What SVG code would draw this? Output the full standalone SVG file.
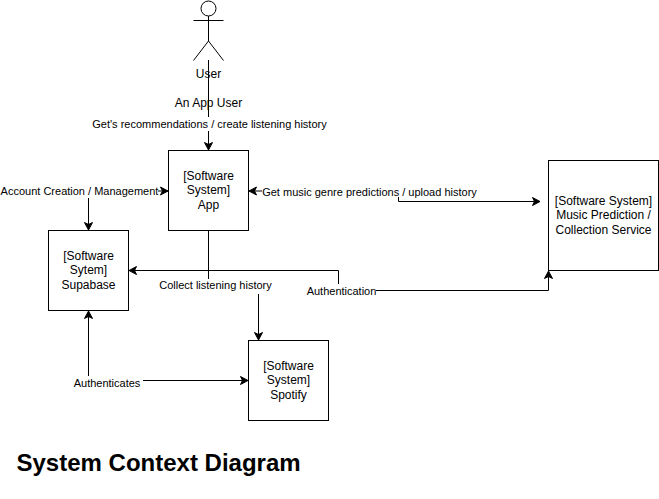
<svg xmlns="http://www.w3.org/2000/svg" width="659" height="499" viewBox="0 0 659 499">
<style>
text{font-family:"Liberation Sans",Arial,Helvetica,sans-serif;fill:#000}
.n{font-size:12px;text-anchor:middle}
.l{font-size:11px;text-anchor:middle}
.t{font-size:24px;font-weight:bold}
.s{fill:none;stroke:#000;stroke-width:1}
.b{fill:#fff;stroke:#000;stroke-width:1}
.c path{fill:none;stroke:#000;stroke-width:1}
.h{fill:#000;stroke:#000;stroke-width:1}
</style>
<defs>
<marker id="a" markerUnits="userSpaceOnUse" markerWidth="12" markerHeight="10" refX="8" refY="5" orient="auto" overflow="visible">
<path d="M0.5 1L8 5L0.5 9L2.5 5Z" class="h"/>
</marker>
</defs>
<g id="actor-user">
<circle class="s" cx="208.5" cy="8.5" r="7.500"/>
<path class="s" d="M208.5 16V41M193.5 20.5H223.5M193.5 60.5L208.5 41L223.5 60.5"/>
<text class="n" x="208.5" y="78">User</text>
<text class="n" x="208.5" y="107">An App User</text>
</g>
<g id="connectors" class="c">
<path d="M208.5 60V117"/>
<path d="M208.5 131V150" marker-end="url(#a)"/>
<path d="M158 191H168" marker-end="url(#a)"/>
<path d="M88.5 198V230" marker-end="url(#a)"/>
<path d="M262 191H249" marker-end="url(#a)"/>
<path d="M398.5 197V201.5H540" marker-end="url(#a)"/>
<path d="M208.5 230V279"/>
<path d="M338.5 284V270.5H129" marker-end="url(#a)"/>
<path d="M258.5 294V340" marker-end="url(#a)"/>
<path d="M88.5 376V311" marker-end="url(#a)"/>
<path d="M143 380.5H248" marker-end="url(#a)"/>
<path d="M376 290.5H548.5V271" marker-end="url(#a)"/>
</g>
<g id="node-app">
<rect class="b" x="168.5" y="150.5" width="80" height="80"/>
<text class="n" x="208.5" y="180">[Software</text>
<text class="n" x="208.5" y="194">System]</text>
<text class="n" x="208.5" y="209">App</text>
</g>
<g id="node-supabase">
<rect class="b" x="48.5" y="230.5" width="80" height="80"/>
<text class="n" x="88.5" y="260">[Software</text>
<text class="n" x="88.5" y="274">Sytem]</text>
<text class="n" x="88.5" y="289">Supabase</text>
</g>
<g id="node-spotify">
<rect class="b" x="248.5" y="340.5" width="80" height="80"/>
<text class="n" x="288.5" y="370">[Software</text>
<text class="n" x="288.5" y="384">System]</text>
<text class="n" x="288.5" y="399">Spotify</text>
</g>
<g id="node-music">
<rect class="b" x="548.5" y="160.5" width="110" height="110"/>
<text class="n" x="603.5" y="205">[Software System]</text>
<text class="n" x="603.5" y="219">Music Prediction /</text>
<text class="n" x="603.5" y="234">Collection Service</text>
</g>
<g id="labels">
<text class="l" x="209.5" y="128">Get's recommendations / create listening history</text>
<text class="l" x="79.5" y="195">Account Creation / Management</text>
<text class="l" x="369.5" y="196">Get music genre predictions / upload history</text>
<text class="l" x="215.5" y="289">Collect listening history</text>
<text class="l" x="341.5" y="295">Authentication</text>
<text class="l" x="107" y="387">Authenticates</text>
</g>
<text class="t" x="16.5" y="471">System Context Diagram</text>
</svg>
